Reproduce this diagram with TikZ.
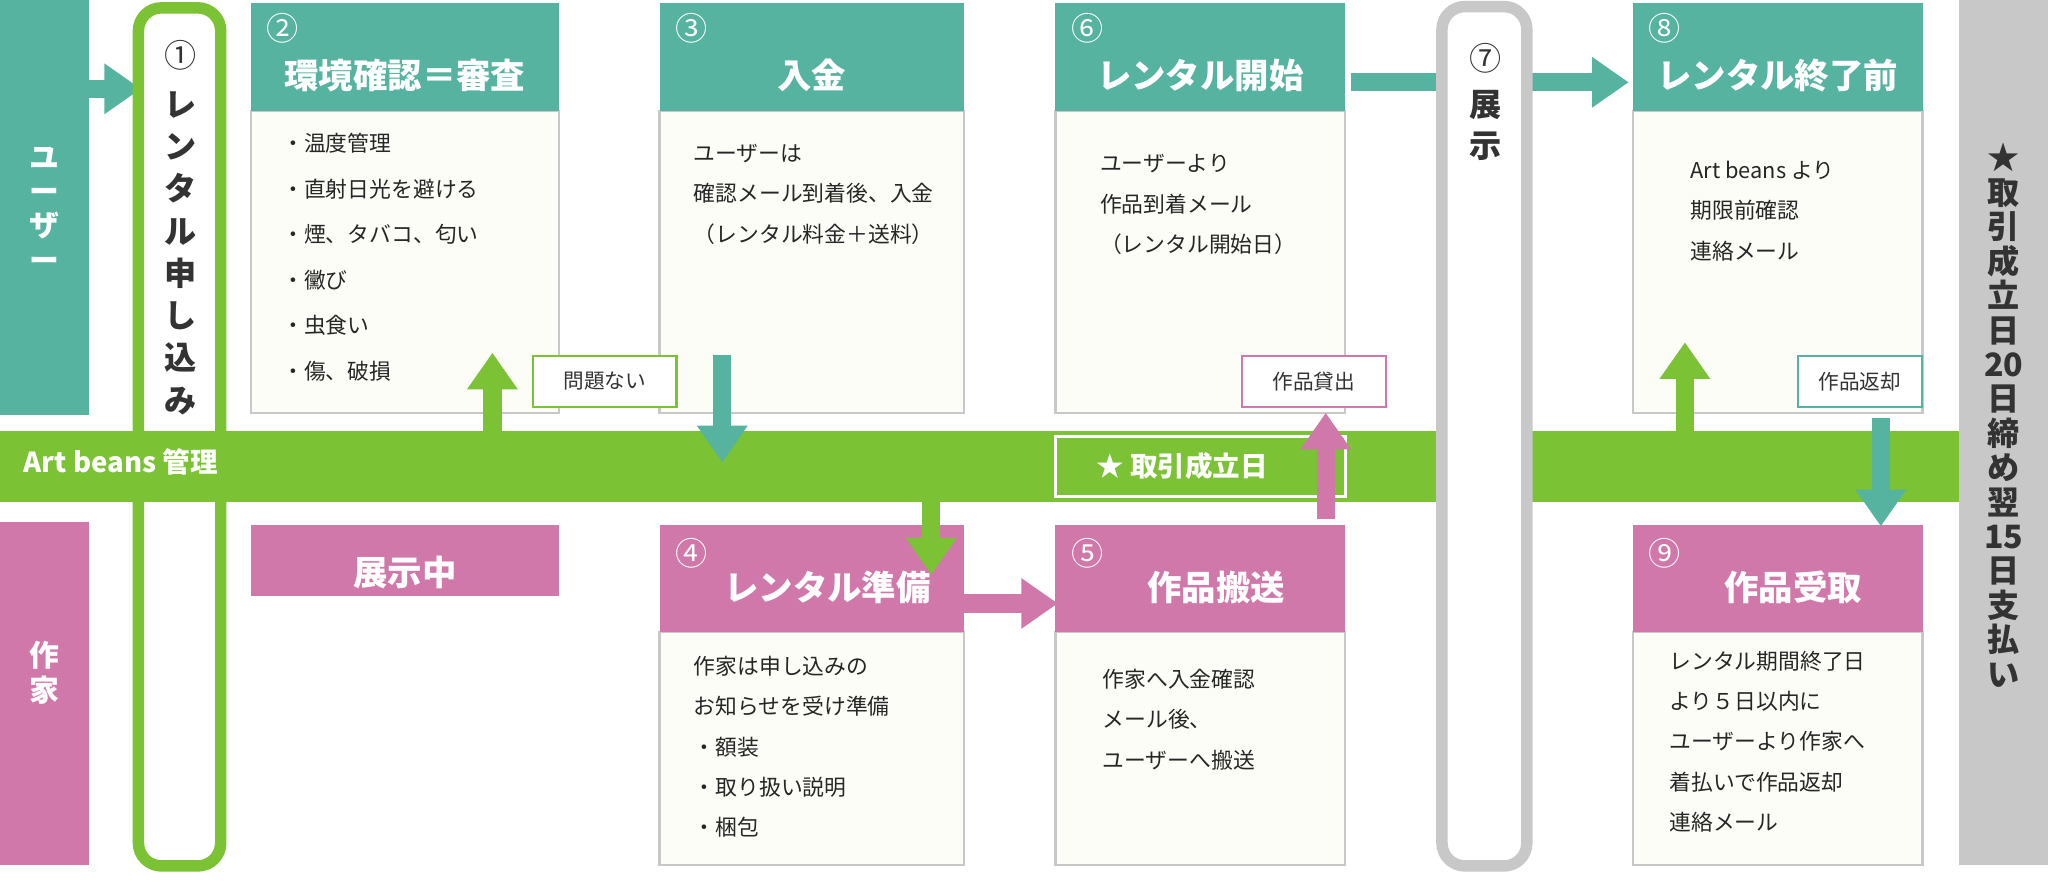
\documentclass[tikz,border=0pt]{standalone}
\usepackage{fontspec}
\setmainfont{Noto Sans CJK JP}
\usetikzlibrary{arrows.meta}
\definecolor{teal1}{HTML}{55B3A0}
\definecolor{pink1}{HTML}{D178AA}
\definecolor{green1}{HTML}{7BC234}
\definecolor{gray1}{HTML}{C8C8C8}
\definecolor{paper}{HTML}{FDFDF8}
\tikzset{
  head/.style={font=\bfseries\fontsize{15}{17}\selectfont,text=white},
  num/.style={font=\fontsize{14}{15}\selectfont,anchor=north west},
  body/.style={draw=gray1,line width=1pt,fill=paper},
  txt/.style={anchor=north west,align=left,font=\fontsize{9.5}{17.6}\selectfont,text=black!85},
  tag/.style={draw=#1,line width=1pt,fill=white,font=\fontsize{9}{10}\selectfont,minimum width=2.2cm,minimum height=0.78cm,text=black!80},
  bigarrow/.style={draw=#1,line width=8pt,-{Triangle[width=21pt,length=16pt]}},
}
\begin{document}
\begin{tikzpicture}[x=0.02cm,y=-0.02cm]
\useasboundingbox (0,0) rectangle (1568,680);
% lanes
\fill[teal1] (0,0) rectangle (68,318);
\fill[pink1] (0,400) rectangle (68,662);
\node[text=white,font=\bfseries\fontsize{13}{15}\selectfont,align=center] (user) at (34,160) {ユ\\ー\\ザ\\ー};
\node[text=white,font=\bfseries\fontsize{13}{15}\selectfont,align=center] (artist) at (34,515) {作\\家};
\fill[gray1] (1500,0) rectangle (1568,662);
\node[font=\bfseries\fontsize{14}{15}\selectfont,align=center,text=black!80] (rule) at (1534,318)
  {★\\取\\引\\成\\立\\日\\20\\日\\締\\め\\翌\\15\\日\\支\\払\\い};
% step 1
\draw[bigarrow=teal1] (68,68) -- (108,68);
\draw[green1,line width=5pt,fill=white,rounded corners=10pt] (106,6) rectangle (169,663);
\node[font=\fontsize{14}{15}\selectfont,text=black!80] (n1) at (138,42) {①};
\node[font=\bfseries\fontsize{14}{18.4}\selectfont,align=center,text=black!80,anchor=north] (s1) at (138,64)
  {レ\\ン\\タ\\ル\\申\\し\\込\\み};
% arrow 6 -> 8 under step 7
\draw[bigarrow=teal1] (1034,63) -- (1247,63);
% management bar
\fill[green1] (0,330) rectangle (1500,384);
\node[anchor=west,text=white,font=\bfseries\fontsize{12}{14}\selectfont] (bar) at (12,354) {Art beans 管理};
% upper boxes
\foreach \x/\w/\n/\t in {192/236/②/環境確認＝審査, 505/233/③/入金, 808/222/⑥/レンタル開始, 1250/222/⑧/レンタル終了前}{
  \draw[body] (\x,85) rectangle ++(\w,231);
  \fill[teal1] (\x,2) rectangle ++(\w,83);
  \node[num,text=white] at (\x+6,4) {\n};
  \node[head] at (\x+\w/2,58) {\t};
}
% lower boxes
\foreach \x/\w/\n/\t in {505/233/④/レンタル準備, 808/222/⑤/作品搬送, 1250/222/⑨/作品受取}{
  \draw[body] (\x,484) rectangle ++(\w,178);
  \fill[pink1] (\x,402) rectangle ++(\w,82);
  \node[num,text=white] at (\x+6,406) {\n};
  \node[head] at (\x+\w/2+12,450) {\t};
}
\fill[pink1] (192,402) rectangle (428,456);
\node[head] (onshow) at (310,438) {展示中};
% step 7
\draw[gray1,line width=5pt,fill=white,rounded corners=10pt] (1104,5) rectangle (1169,663);
\node[font=\fontsize{14}{15}\selectfont,text=black!80] (n7) at (1137,45) {⑦};
\node[font=\bfseries\fontsize{14}{18}\selectfont,align=center,text=black!80] (s7) at (1137,96) {展\\示};
% texts
\node[txt,font=\fontsize{9.5}{19.8}\selectfont] (t2) at (210,96) {・温度管理\\・直射日光を避ける\\・煙、タバコ、匂い\\・黴び\\・虫食い\\・傷、破損};
\node[txt] (t3) at (525,104) {ユーザーは\\確認メール到着後、入金\\（レンタル料金＋送料）};
\node[txt] (t6) at (836,112) {ユーザーより\\作品到着メール\\（レンタル開始日）};
\node[txt] (t8) at (1288,117) {Art beans より\\期限前確認\\連絡メール};
\node[txt] (t4) at (525,496) {作家は申し込みの\\お知らせを受け準備\\・額装\\・取り扱い説明\\・梱包};
\node[txt] (t5) at (838,506) {作家へ入金確認\\メール後、\\ユーザーへ搬送};
\node[txt] (t9) at (1272,492) {レンタル期間終了日\\より５日以内に\\ユーザーより作家へ\\着払いで作品返却\\連絡メール};
% arrows
\draw[bigarrow=green1] (377,332) -- (377,270);
\node[tag=green1] (ok) at (463,292) {問題ない};
\draw[bigarrow=teal1] (553,272) -- (553,354);
\draw[bigarrow=green1] (713,382) -- (713,440);
\draw[bigarrow=pink1] (738,462) -- (810,462);
\draw[white,line width=1.2pt] (808,334) rectangle (1030,380);
\node[text=white,font=\bfseries\fontsize{12}{14}\selectfont] (deal) at (905,357) {★ 取引成立日};
\draw[bigarrow=pink1] (1015,397) -- (1015,316);
\node[tag=pink1] (lend) at (1006,292) {作品貸出};
\draw[bigarrow=green1] (1290,332) -- (1290,262);
\node[tag=teal1,minimum width=1.9cm] (back) at (1424,292) {作品返却};
\draw[bigarrow=teal1] (1440,320) -- (1440,403);
\end{tikzpicture}
\end{document}
